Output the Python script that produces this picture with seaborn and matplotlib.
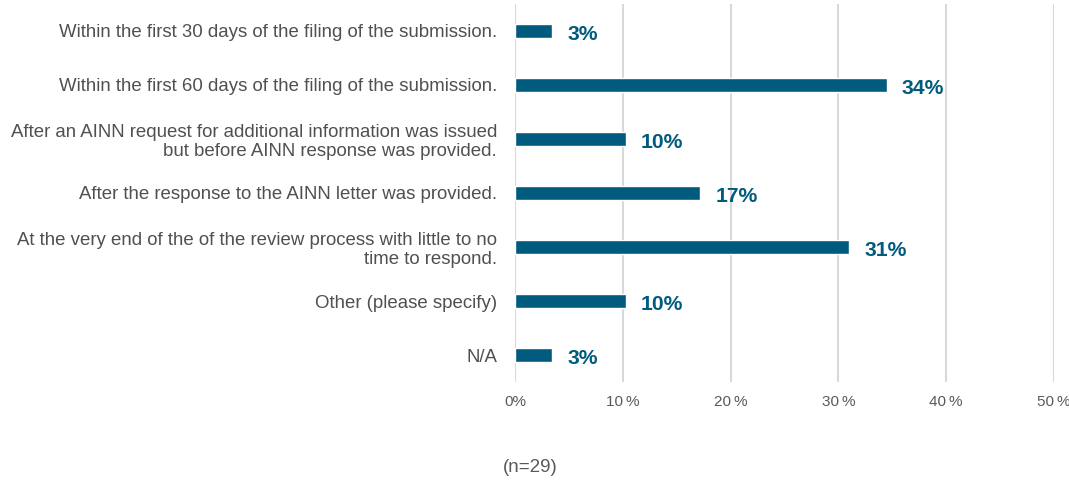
import pandas as pd
import seaborn as sns
import matplotlib.pyplot as plt

categories = ['Within the first 30 days of the filing of the submission.',
              'Within the first 60 days of the filing of the submission.',
              'After an AINN request for additional information was issued\nbut before AINN response was provided.',
              'After the response to the AINN letter was provided.',
              'At the very end of the of the review process with little to no\ntime to respond.',
              'Other (please specify)',
              'N/A']
values = [3.45, 34.5, 10.3, 17.2, 31.0, 10.3, 3.45]
value_labels = ['3%', '34%', '10%', '17%', '31%', '10%', '3%']
ticks = [0, 10, 20, 30, 40, 50]
tick_labels = ['0%', '10\u2009%', '20\u2009%', '30\u2009%', '40\u2009%', '50\u2009%']

df = pd.DataFrame({'answer': categories, 'pct': values})

sns.set_theme(style='white')
plt.rcParams['font.family'] = ['Liberation Sans', 'DejaVu Sans']

fig = plt.figure(figsize=(10.69, 4.8), dpi=100)
ax = fig.add_axes([0.4818, 0.204, 0.504, 0.788])
bar_color = '#005b7f'
sns.barplot(data=df, y='answer', x='pct', orient='h', color=bar_color,
            width=0.26, saturation=1, ax=ax)

ax.set_xlim(0, 50)
ax.set_xticks(ticks)
ax.set_xticklabels(tick_labels, fontsize=11, color='#595959')
ax.tick_params(axis='y', labelsize=13.4, labelcolor='#505050', length=0, pad=13)
ax.tick_params(axis='x', length=0, pad=9)
for lab in ax.get_yticklabels():
    lab.set_linespacing(1.15)
ax.set_xlabel('')
ax.set_ylabel('')
for s in ax.spines.values():
    s.set_visible(False)
ax.grid(axis='x', color='#d9d9d9', linewidth=1.5)
ax.set_axisbelow(True)

for i, (v, t) in enumerate(zip(values, value_labels)):
    ax.text(v + 1.4, i + 0.07, t, va='center', ha='left', fontsize=15.2,
            fontweight='bold', color=bar_color)

fig.text(0.496, 0.025, '(n=29)', ha='center', va='center', fontsize=13.5, color='#595959')

plt.savefig('out.png', dpi=100)
